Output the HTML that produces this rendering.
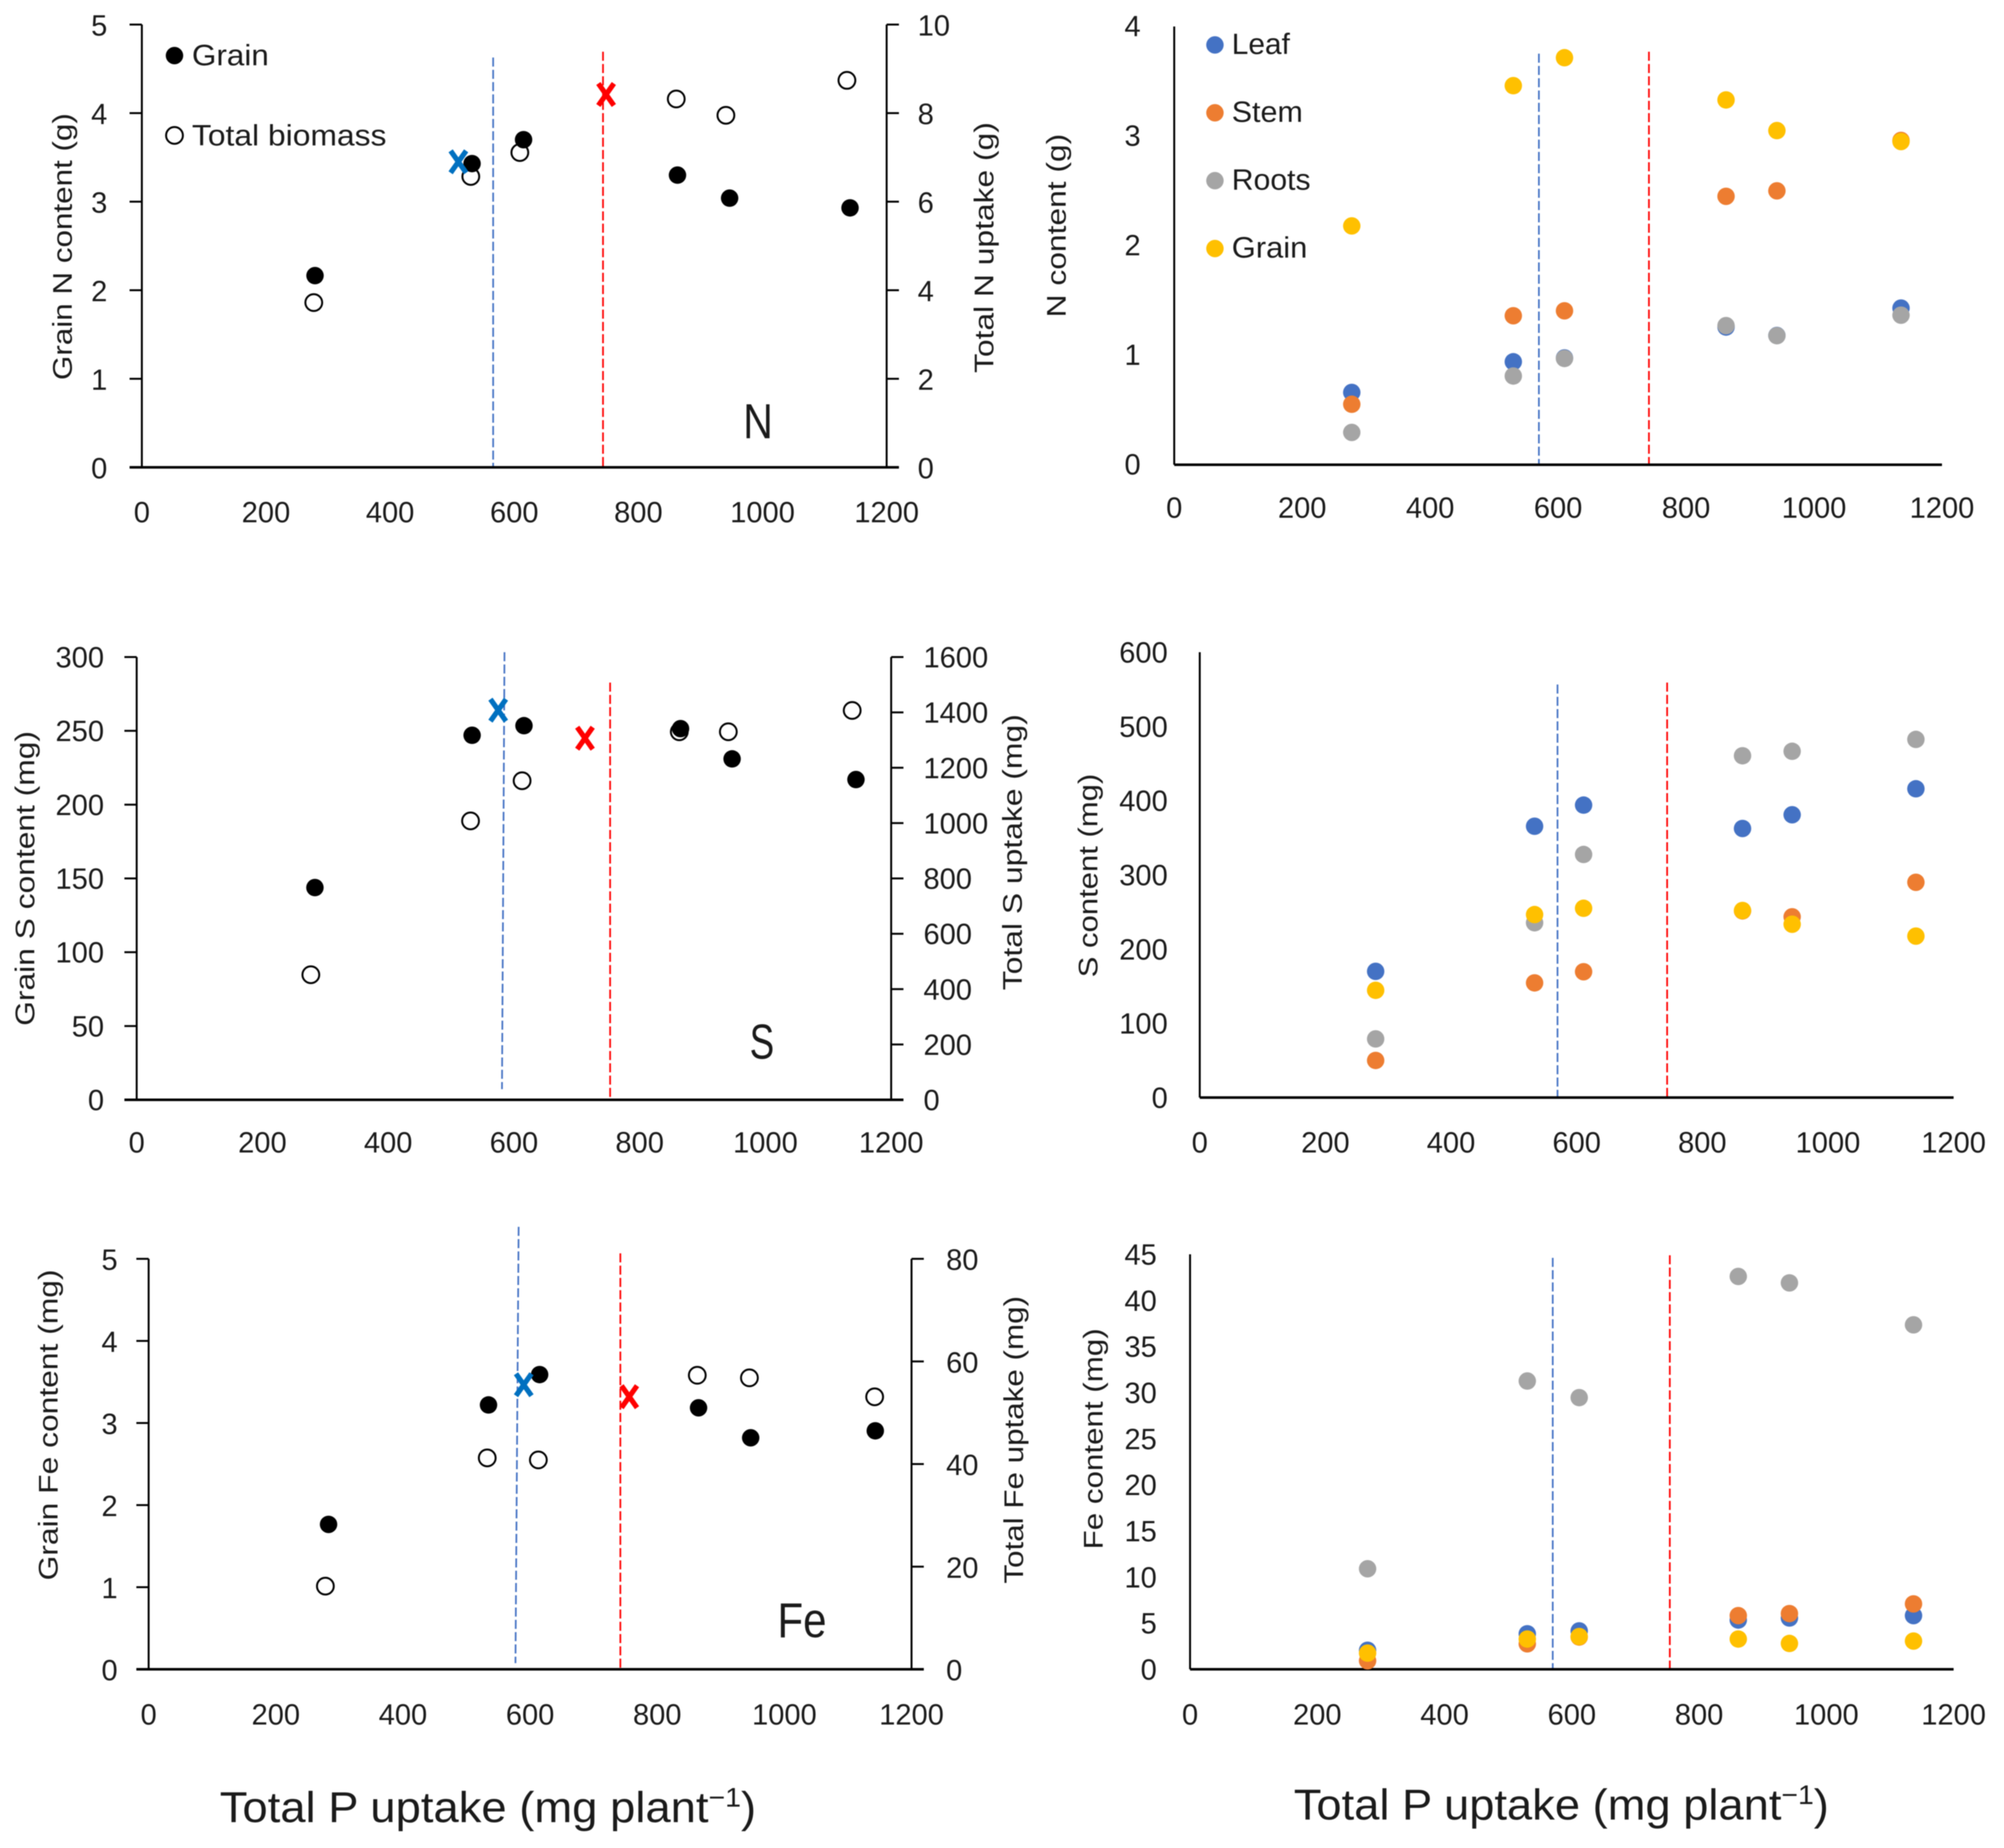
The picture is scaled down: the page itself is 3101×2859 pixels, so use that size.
<!DOCTYPE html>
<html lang="en">
<head>
<meta charset="utf-8">
<title>Grain and tissue nutrient content against total P uptake</title>
<style>
html,body{margin:0;padding:0;background:#fff;width:3101px;height:2859px;overflow:hidden}
#figure{display:block;filter:blur(0.9px);font-family:"Liberation Sans",sans-serif;fill:#1a1a1a}
</style>
</head>
<body>
<svg id="figure" xmlns="http://www.w3.org/2000/svg" width="3101" height="2859" viewBox="0 0 3101 2859">
<rect width="3101" height="2859" fill="#ffffff"/>
<text x="755" y="2819" text-anchor="middle" font-size="67" textLength="830" lengthAdjust="spacingAndGlyphs">Total P uptake (mg plant<tspan font-size="42" dy="-24">−1</tspan><tspan dy="24">)</tspan></text>
<text x="2416" y="2815" text-anchor="middle" font-size="67" textLength="828" lengthAdjust="spacingAndGlyphs">Total P uptake (mg plant<tspan font-size="42" dy="-24">−1</tspan><tspan dy="24">)</tspan></text>
</svg>
<script>
// Shared tick labels
const xTickLabels = [0, 200, 400, 600, 800, 1000, 1200];
const yTicksGrainN = [0, 1, 2, 3, 4, 5];
const yTicksTotalN = [0, 2, 4, 6, 8, 10];
const yTicksPartN = [0, 1, 2, 3, 4];
const yTicksGrainS = [0, 50, 100, 150, 200, 250, 300];
const yTicksTotalS = [0, 200, 400, 600, 800, 1000, 1200, 1400, 1600];
const yTicksPartS = [0, 100, 200, 300, 400, 500, 600];
const yTicksGrainFe = [0, 1, 2, 3, 4, 5];
const yTicksTotalFe = [0, 20, 40, 60, 80];
const yTicksPartFe = [0, 5, 10, 15, 20, 25, 30, 35, 40, 45];

// Panel N, grain and total biomass
const nGrainX = [279, 532, 615, 863, 947, 1141];
const nGrainY = [2.165, 3.43, 3.70, 3.30, 3.04, 2.93];
const nTotalX = [277, 530, 609, 861, 941, 1136];
const nTotalY = [3.72, 6.57, 7.11, 8.32, 7.95, 8.74];
const nCross = [510, 3.45, 748, 4.21];
const nCutoffs = [566, 566, 743, 743];

// Panel N, plant parts
const nPartX = [277.5, 530, 610, 862.5, 942, 1136];
const nLeaf = [0.66, 0.94, 0.975, 1.257, 1.18, 1.43];
const nStem = [0.552, 1.36, 1.405, 2.45, 2.50, 2.96];
const nRoots = [0.295, 0.81, 0.97, 1.27, 1.178, 1.365];
const nPartGrain = [2.18, 3.46, 3.715, 3.33, 3.05, 2.95];
const nPartCutoffs = [570, 570, 742, 742];

// Panel S, grain and total biomass
const sGrainX = [283.5, 533.5, 616, 865, 947, 1144];
const sGrainY = [143.8, 247, 253.5, 251.5, 231, 217];
const sTotalX = [277, 531, 613, 863, 941, 1138];
const sTotalY = [452, 1008, 1153, 1330, 1330, 1407];
const sCross = [575, 264, 713, 245];
const sCutoffs = [585, 581, 753, 753];

// Panel S, plant parts
const sPartX = [280, 533, 611, 864, 943, 1140];
const sLeaf = [170, 365.5, 394, 362.5, 381, 416];
const sStem = [50, 154.5, 169.5, 251.5, 243.5, 290];
const sRoots = [79, 235.5, 327.5, 460.5, 466.5, 482.5];
const sPartGrain = [144.5, 246.5, 255, 252, 233.5, 217.5];
const sPartCutoffs = [569.5, 569.5, 744, 744];

// Panel Fe, grain and total biomass
const feGrainX = [283, 534.6, 615, 865, 947, 1143];
const feGrainY = [1.765, 3.22, 3.59, 3.185, 2.82, 2.905];
const feTotalX = [278, 532.6, 613, 863, 945, 1142];
const feTotalY = [16.2, 41.2, 40.8, 57.3, 56.8, 53.1];
const feCross = [590, 3.466, 756, 3.32];
const feCutoffs = [582, 577, 742, 742];

// Panel Fe, plant parts
const fePartX = [279, 530, 611.6, 861.6, 942, 1137];
const feLeaf = [2.06, 3.85, 4.16, 5.34, 5.56, 5.82];
const feStem = [0.92, 2.76, 3.5, 5.82, 6.04, 7.09];
const feRoots = [10.9, 31.26, 29.46, 42.6, 41.9, 37.35];
const fePartGrain = [1.75, 3.28, 3.55, 3.28, 2.8, 3.06];
const fePartCutoffs = [570, 570, 754, 754];

const NS = 'http://www.w3.org/2000/svg';
const root = document.getElementById('figure');
const COLORS = {leaf: '#4472C4', stem: '#ED7D31', roots: '#A5A5A5', grain: '#FFC000', black: '#000000', blueCross: '#0070C0', red: '#FF0000'};

function make(tag, attrs, parent, content) {
  const node = document.createElementNS(NS, tag);
  for (const key in attrs) node.setAttribute(key, attrs[key]);
  if (content !== undefined) node.textContent = content;
  parent.appendChild(node);
  return node;
}
function mark(node, name) {
  
  
  return node;
}
function line(parent, x1, y1, x2, y2, name, stroke, width, dash) {
  const attrs = {x1: x1, y1: y1, x2: x2, y2: y2, stroke: stroke || '#000', 'stroke-width': width || 3};
  if (dash) attrs['stroke-dasharray'] = dash;
  const node = make('line', attrs, parent);
  
  
  return node;
}
function label(parent, x, y, str, anchor, name, size) {
  const node = make('text', {x: x, y: y, 'text-anchor': anchor, 'font-size': size || 45}, parent, str);
  
  
  return node;
}
function rotatedTitle(parent, cx, y1, y2, str, name) {
  const node = make('text', {
    transform: 'translate(' + (cx + 15) + ' ' + ((y1 + y2) / 2) + ') rotate(-90)',
    'text-anchor': 'middle', 'font-size': 42, textLength: y2 - y1, lengthAdjust: 'spacingAndGlyphs'
  }, parent, str);
  
  
}
function dots(parent, xs, ys, xScale, yScale, color, name) {
  xs.forEach(function (xv, i) {
    const node = make('circle', {cx: xScale(xv), cy: yScale(ys[i]), r: 13.5, fill: color}, parent);
    
    
  });
}
function rings(parent, xs, ys, xScale, yScale, name) {
  xs.forEach(function (xv, i) {
    const node = make('circle', {cx: xScale(xv), cy: yScale(ys[i]), r: 13, fill: '#fff', stroke: '#000', 'stroke-width': 3}, parent);
    
    
  });
}
function cross(parent, xv, yv, xScale, yScale, color, name) {
  const cx = xScale(xv), cy = yScale(yv);
  const g = mark(make('g', {}, parent), name);
  line(g, cx - 12, cy - 17, cx + 12, cy + 17, name + '-stroke-a', color, 8);
  line(g, cx + 12, cy - 17, cx - 12, cy + 17, name + '-stroke-b', color, 8);
}
function drawPanel(p) {
  const g = mark(make('g', {}, root), p.name);
  const x = function (v) { return p.x0 + (v / 1200) * (p.x1 - p.x0); };
  const y = function (v) { return p.y0 - (v / p.yMax) * (p.y0 - p.yTop); };
  const labelDy = p.labelDy === undefined ? 17 : p.labelDy;

  // cutoff lines
  line(g, x(p.cutoffs[0]), p.blueTop, x(p.cutoffs[1]), p.blueBottom, 'blue-cutoff-line', '#4472C4', 2.6, '14 5');
  line(g, x(p.cutoffs[2]), p.redTop, x(p.cutoffs[3]), p.redBottom, 'red-cutoff-line', '#FF0000', 2.6, '14 5');

  // axes
  const tick = p.ticks ? 19 : 0;
  line(g, p.x0, p.yTop, p.x0, p.y0, 'y-axis-line');
  line(g, p.x0 - tick, p.y0, p.x1 + (p.right ? tick : 0), p.y0, 'x-axis-line', '#000', 4);
  xTickLabels.forEach(function (t) {
    label(g, x(t), p.xLabelY + 16, String(t), 'middle', 'x-tick-label');
  });
  p.yTicks.forEach(function (t) {
    if (p.ticks && t !== 0) line(g, p.x0 - tick, y(t), p.x0, y(t), 'y-tick');
    label(g, p.yLabelX, y(t) + labelDy, String(t), 'end', 'y-tick-label');
  });
  rotatedTitle(g, p.title[0], p.title[1], p.title[2], p.title[3], 'y-axis-title');

  // marks
  if (p.right) {
    const yR = function (v) { return p.y0 - (v / p.rMax) * (p.y0 - p.yTop); };
    line(g, p.x1, p.yTop, p.x1, p.y0, 'secondary-y-axis-line');
    p.rTicks.forEach(function (t) {
      if (t !== 0) line(g, p.x1, yR(t), p.x1 + tick, yR(t), 'secondary-y-tick');
      label(g, p.rLabelX, yR(t) + labelDy, String(t), 'start', 'secondary-y-tick-label');
    });
    rotatedTitle(g, p.rTitle[0], p.rTitle[1], p.rTitle[2], p.rTitle[3], 'secondary-y-axis-title');
    rings(g, p.totalX, p.totalY, x, yR, 'total-biomass');
    dots(g, p.grainX, p.grainY, x, y, COLORS.black, 'grain');
    cross(g, p.crossVals[0], p.crossVals[1], x, y, COLORS.blueCross, 'blue-cross-marker');
    cross(g, p.crossVals[2], p.crossVals[3], x, y, COLORS.red, 'red-cross-marker');
    const tag = make('text', {x: p.tag[0], y: p.tag[1], 'text-anchor': 'middle', 'font-size': 76, textLength: p.tag[3], lengthAdjust: 'spacingAndGlyphs'}, g, p.tag[2]);
    
    
  } else {
    dots(g, p.partX, p.leaf, x, y, COLORS.leaf, 'leaf');
    dots(g, p.partX, p.stem, x, y, COLORS.stem, 'stem');
    dots(g, p.partX, p.roots, x, y, COLORS.roots, 'roots');
    dots(g, p.partX, p.grain, x, y, COLORS.grain, 'grain');
  }
  return g;
}

const panelN = drawPanel({
  name: 'panel-n-grain-total', x0: 219.5, x1: 1372, y0: 723, yTop: 38, yMax: 5, ticks: true, right: true, rMax: 10,
  yTicks: yTicksGrainN, rTicks: yTicksTotalN, yLabelX: 166, rLabelX: 1420, xLabelY: 792,
  title: [96, 175, 588, 'Grain N content (g)'], rTitle: [1522, 189, 577, 'Total N uptake (g)'],
  cutoffs: nCutoffs, blueTop: 89, blueBottom: 723, redTop: 80, redBottom: 723,
  grainX: nGrainX, grainY: nGrainY, totalX: nTotalX, totalY: nTotalY, crossVals: nCross, tag: [1173, 678, 'N', 46]
});
const panelNParts = drawPanel({
  name: 'panel-n-plant-parts', x0: 1817, x1: 3005, y0: 719, yTop: 41, yMax: 4, ticks: false, right: false, labelDy: 15,
  yTicks: yTicksPartN, yLabelX: 1765, xLabelY: 785,
  title: [1634, 207, 491, 'N content (g)'],
  cutoffs: nPartCutoffs, blueTop: 83, blueBottom: 719, redTop: 80, redBottom: 719,
  partX: nPartX, leaf: nLeaf, stem: nStem, roots: nRoots, grain: nPartGrain
});
const panelS = drawPanel({
  name: 'panel-s-grain-total', x0: 211.5, x1: 1379, y0: 1701.5, yTop: 1016.5, yMax: 300, ticks: true, right: true, rMax: 1600, labelDy: 16,
  yTicks: yTicksGrainS, rTicks: yTicksTotalS, yLabelX: 161, rLabelX: 1429, xLabelY: 1767,
  title: [38, 1131, 1587, 'Grain S  content (mg)'], rTitle: [1566, 1105, 1532, 'Total S uptake (mg)'],
  cutoffs: sCutoffs, blueTop: 1009, blueBottom: 1685, redTop: 1056, redBottom: 1697,
  grainX: sGrainX, grainY: sGrainY, totalX: sTotalX, totalY: sTotalY, crossVals: sCross, tag: [1179, 1638, 'S', 38]
});
const panelSParts = drawPanel({
  name: 'panel-s-plant-parts', x0: 1856.5, x1: 3023, y0: 1698, yTop: 1009, yMax: 600, ticks: false, right: false, labelDy: 16,
  yTicks: yTicksPartS, yLabelX: 1807, xLabelY: 1767,
  title: [1683, 1197, 1512, 'S content (mg)'],
  cutoffs: sPartCutoffs, blueTop: 1059, blueBottom: 1698, redTop: 1056, redBottom: 1698,
  partX: sPartX, leaf: sLeaf, stem: sStem, roots: sRoots, grain: sPartGrain
});
const panelFe = drawPanel({
  name: 'panel-fe-grain-total', x0: 230, x1: 1410.5, y0: 2582.5, yTop: 1947.5, yMax: 5, ticks: true, right: true, rMax: 80,
  yTicks: yTicksGrainFe, rTicks: yTicksTotalFe, yLabelX: 182, rLabelX: 1464, xLabelY: 2652,
  title: [74, 1964, 2445, 'Grain Fe  content (mg)'], rTitle: [1568, 2005, 2450, 'Total Fe uptake (mg)'],
  cutoffs: feCutoffs, blueTop: 1898, blueBottom: 2573, redTop: 1939, redBottom: 2582,
  grainX: feGrainX, grainY: feGrainY, totalX: feTotalX, totalY: feTotalY, crossVals: feCross, tag: [1241, 2533, 'Fe', 76]
});
const panelFeParts = drawPanel({
  name: 'panel-fe-plant-parts', x0: 1841.5, x1: 3023, y0: 2582.5, yTop: 1940.5, yMax: 45, ticks: false, right: false, labelDy: 16,
  yTicks: yTicksPartFe, yLabelX: 1790, xLabelY: 2652,
  title: [1691, 2055, 2397, 'Fe content (mg)'],
  cutoffs: fePartCutoffs, blueTop: 1946, blueBottom: 2582, redTop: 1942, redBottom: 2582,
  partX: fePartX, leaf: feLeaf, stem: feStem, roots: feRoots, grain: fePartGrain
});

// Legend: grain and total biomass
const legendA = make('g', {}, panelN);


const legendGrainDot = make('circle', {cx: 270, cy: 86, r: 13.5, fill: '#000'}, legendA);


const legendGrainText = make('text', {x: 297, y: 101, 'font-size': 45, textLength: 119, lengthAdjust: 'spacingAndGlyphs'}, legendA, 'Grain');


const legendTotalRing = make('circle', {cx: 270, cy: 209.5, r: 13, fill: '#fff', stroke: '#000', 'stroke-width': 3}, legendA);


const legendTotalText = make('text', {x: 297, y: 225, 'font-size': 45, textLength: 301, lengthAdjust: 'spacingAndGlyphs'}, legendA, 'Total biomass');



// Legend: plant parts
const partNames = ['Leaf', 'Stem', 'Roots', 'Grain'];
const partColors = [COLORS.leaf, COLORS.stem, COLORS.roots, COLORS.grain];
const partLabelWidths = [90, 110, 122, 117];
const legendB = make('g', {}, panelNParts);


partNames.forEach(function (n, i) {
  const cy = 69.5 + i * 105;
  const dot = make('circle', {cx: 1880, cy: cy, r: 13.5, fill: partColors[i]}, legendB);
  
  
  const txt = make('text', {x: 1906, y: cy + 14, 'font-size': 45, textLength: partLabelWidths[i], lengthAdjust: 'spacingAndGlyphs'}, legendB, n);
  
  
});
</script>
</body>
</html>
